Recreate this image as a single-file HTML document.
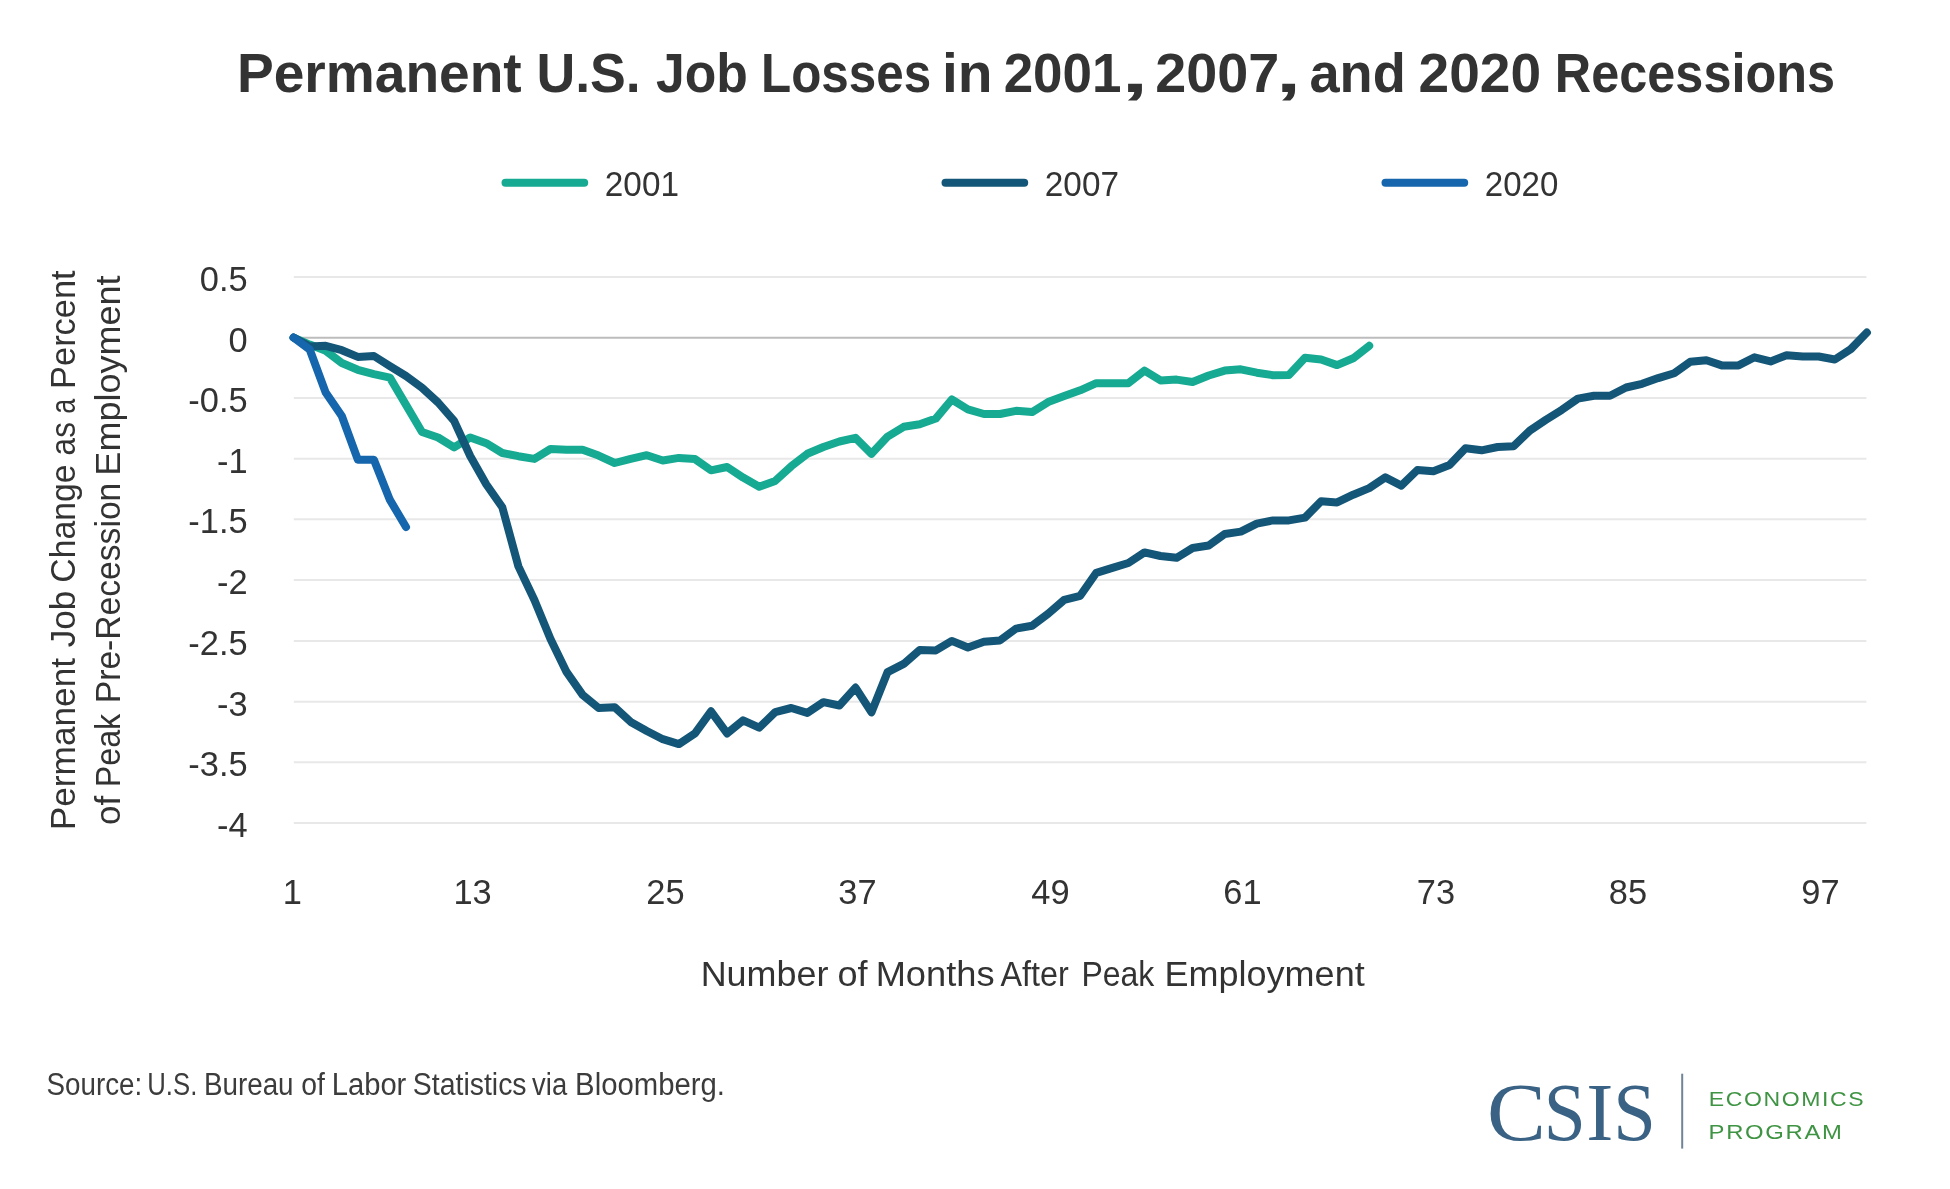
<!DOCTYPE html>
<html><head><meta charset="utf-8"><title>Permanent U.S. Job Losses</title>
<style>
html,body{margin:0;padding:0;background:#fff;}
svg{display:block;will-change:transform;}
text{font-family:"Liberation Sans",sans-serif;fill:#333;}
.t{font-weight:bold;font-size:55px;fill:#333;}
.a{font-size:34.4px;}
.l{font-size:35.2px;}
.s{font-size:30.6px;fill:#3c3c3c;}
.c{font-family:"Liberation Serif",serif;fill:#3a6284;font-size:83.5px;}
.e{font-size:20px;fill:#3f9443;letter-spacing:1.4px;}
</style></head><body>
<svg width="1950" height="1189" viewBox="0 0 1950 1189">
<rect width="1950" height="1189" fill="#fff"/>
<text class="t" x="236.96" y="91.5" textLength="284.71" lengthAdjust="spacingAndGlyphs">Permanent</text>
<text class="t" x="536.38" y="91.5" textLength="104.39" lengthAdjust="spacingAndGlyphs">U.S.</text>
<text class="t" x="656.00" y="91.5" textLength="91.89" lengthAdjust="spacingAndGlyphs">Job</text>
<text class="t" x="761.02" y="91.5" textLength="170.08" lengthAdjust="spacingAndGlyphs">Losses</text>
<text class="t" x="941.94" y="91.5" textLength="50.61" lengthAdjust="spacingAndGlyphs">in</text>
<text class="t" x="1003.65" y="91.5" textLength="117.77" lengthAdjust="spacingAndGlyphs">2001</text>
<text class="t" x="1121.28" y="91.5" textLength="27.21" lengthAdjust="spacingAndGlyphs">,</text>
<text class="t" x="1155.26" y="91.5" textLength="124.00" lengthAdjust="spacingAndGlyphs">2007</text>
<text class="t" x="1276.06" y="91.5" textLength="25.07" lengthAdjust="spacingAndGlyphs">,</text>
<text class="t" x="1309.45" y="91.5" textLength="96.31" lengthAdjust="spacingAndGlyphs">and</text>
<text class="t" x="1418.58" y="91.5" textLength="122.45" lengthAdjust="spacingAndGlyphs">2020</text>
<text class="t" x="1554.85" y="91.5" textLength="280.19" lengthAdjust="spacingAndGlyphs">Recessions</text>
<line x1="505.5" y1="182.7" x2="584.2" y2="182.7" stroke="#16aa92" stroke-width="8" stroke-linecap="round"/>
<text class="a" x="604.84" y="195.9" textLength="74.11" lengthAdjust="spacingAndGlyphs">2001</text>
<line x1="945.5" y1="182.7" x2="1024.2" y2="182.7" stroke="#145677" stroke-width="8" stroke-linecap="round"/>
<text class="a" x="1044.84" y="195.9" textLength="74.11" lengthAdjust="spacingAndGlyphs">2007</text>
<line x1="1385.5" y1="182.7" x2="1464.2" y2="182.7" stroke="#1566ac" stroke-width="8" stroke-linecap="round"/>
<text class="a" x="1484.85" y="195.9" textLength="73.57" lengthAdjust="spacingAndGlyphs">2020</text>
<line x1="293.8" y1="276.90" x2="1866.4" y2="276.90" stroke="#e8e8e8" stroke-width="2"/>
<line x1="293.8" y1="337.75" x2="1866.4" y2="337.75" stroke="#bcbcbc" stroke-width="2"/>
<line x1="293.8" y1="398.10" x2="1866.4" y2="398.10" stroke="#e8e8e8" stroke-width="2"/>
<line x1="293.8" y1="458.80" x2="1866.4" y2="458.80" stroke="#e8e8e8" stroke-width="2"/>
<line x1="293.8" y1="519.30" x2="1866.4" y2="519.30" stroke="#e8e8e8" stroke-width="2"/>
<line x1="293.8" y1="580.10" x2="1866.4" y2="580.10" stroke="#e8e8e8" stroke-width="2"/>
<line x1="293.8" y1="640.90" x2="1866.4" y2="640.90" stroke="#e8e8e8" stroke-width="2"/>
<line x1="293.8" y1="701.70" x2="1866.4" y2="701.70" stroke="#e8e8e8" stroke-width="2"/>
<line x1="293.8" y1="762.30" x2="1866.4" y2="762.30" stroke="#e8e8e8" stroke-width="2"/>
<line x1="293.8" y1="823.10" x2="1866.4" y2="823.10" stroke="#e8e8e8" stroke-width="2"/>
<text class="a" x="247.6" y="291.0" text-anchor="end">0.5</text>
<text class="a" x="247.6" y="351.6" text-anchor="end">0</text>
<text class="a" x="247.6" y="412.2" text-anchor="end">-0.5</text>
<text class="a" x="247.6" y="472.9" text-anchor="end">-1</text>
<text class="a" x="247.6" y="533.4" text-anchor="end">-1.5</text>
<text class="a" x="247.6" y="594.2" text-anchor="end">-2</text>
<text class="a" x="247.6" y="655.0" text-anchor="end">-2.5</text>
<text class="a" x="247.6" y="715.8" text-anchor="end">-3</text>
<text class="a" x="247.6" y="776.4" text-anchor="end">-3.5</text>
<text class="a" x="247.6" y="837.2" text-anchor="end">-4</text>
<text class="a" x="292.3" y="904" text-anchor="middle">1</text>
<text class="a" x="472.6" y="904" text-anchor="middle">13</text>
<text class="a" x="665.4" y="904" text-anchor="middle">25</text>
<text class="a" x="857.4" y="904" text-anchor="middle">37</text>
<text class="a" x="1050.4" y="904" text-anchor="middle">49</text>
<text class="a" x="1242.5" y="904" text-anchor="middle">61</text>
<text class="a" x="1436.0" y="904" text-anchor="middle">73</text>
<text class="a" x="1627.9" y="904" text-anchor="middle">85</text>
<text class="a" x="1820.5" y="904" text-anchor="middle">97</text>
<text class="l" x="700.70" y="985.7" textLength="127.68" lengthAdjust="spacingAndGlyphs">Number</text>
<text class="l" x="837.47" y="985.7" textLength="30.10" lengthAdjust="spacingAndGlyphs">of</text>
<text class="l" x="875.67" y="985.7" textLength="118.86" lengthAdjust="spacingAndGlyphs">Months</text>
<text class="l" x="1000.50" y="985.7" textLength="68.26" lengthAdjust="spacingAndGlyphs">After</text>
<text class="l" x="1081.40" y="985.7" textLength="72.90" lengthAdjust="spacingAndGlyphs">Peak</text>
<text class="l" x="1164.49" y="985.7" textLength="200.19" lengthAdjust="spacingAndGlyphs">Employment</text>
<g transform="translate(75.2,830.0) rotate(-90)">
<text class="l" x="-0.25" y="0" textLength="172.33" lengthAdjust="spacingAndGlyphs">Permanent</text>
<text class="l" x="182.65" y="0" textLength="56.57" lengthAdjust="spacingAndGlyphs">Job</text>
<text class="l" x="247.32" y="0" textLength="118.25" lengthAdjust="spacingAndGlyphs">Change</text>
<text class="l" x="374.62" y="0" textLength="33.27" lengthAdjust="spacingAndGlyphs">as</text>
<text class="l" x="416.16" y="0" textLength="14.97" lengthAdjust="spacingAndGlyphs">a</text>
<text class="l" x="441.11" y="0" textLength="118.47" lengthAdjust="spacingAndGlyphs">Percent</text>
</g>
<g transform="translate(120.0,830.0) rotate(-90)">
<text class="l" x="5.11" y="0" textLength="29.07" lengthAdjust="spacingAndGlyphs">of</text>
<text class="l" x="42.68" y="0" textLength="73.52" lengthAdjust="spacingAndGlyphs">Peak</text>
<text class="l" x="126.77" y="0" textLength="220.52" lengthAdjust="spacingAndGlyphs">Pre-Recession</text>
<text class="l" x="354.39" y="0" textLength="200.19" lengthAdjust="spacingAndGlyphs">Employment</text>
</g>
<path d="M293.6,337.6 L309.7,344.6 L325.7,350.8 L341.8,363.0 L357.8,369.8 L373.9,374.2 L389.9,377.6 L406.0,404.9 L422.0,432.0 L438.1,437.5 L454.1,447.4 L470.2,437.5 L486.2,443.2 L502.3,453.0 L518.4,456.2 L534.4,458.9 L550.5,449.0 L566.5,449.8 L582.6,449.8 L598.6,455.6 L614.7,463.0 L630.7,458.9 L646.8,455.2 L662.8,460.5 L678.9,457.9 L695.0,459.1 L711.0,470.3 L727.1,467.0 L743.1,477.6 L759.2,486.7 L775.2,480.9 L791.3,466.2 L807.3,453.8 L823.4,447.0 L839.4,441.5 L855.5,437.8 L871.5,453.8 L887.6,436.6 L903.7,426.8 L919.7,424.3 L935.8,418.6 L951.8,399.5 L967.9,409.3 L983.9,414.0 L1000.0,414.0 L1016.0,410.8 L1032.1,412.1 L1048.1,402.1 L1064.2,396.0 L1080.2,390.3 L1096.3,383.2 L1112.4,383.2 L1128.4,383.2 L1144.5,370.6 L1160.5,380.4 L1176.6,379.6 L1192.6,382.0 L1208.7,375.5 L1224.7,370.6 L1240.8,369.3 L1256.8,372.7 L1272.9,375.2 L1288.9,374.9 L1305.0,357.7 L1321.1,359.5 L1337.1,365.1 L1353.2,358.3 L1369.2,345.8" fill="none" stroke="#16aa92" stroke-width="8" stroke-linejoin="round" stroke-linecap="round"/>
<path d="M293.6,337.6 L309.7,346.5 L325.7,345.8 L341.8,350.2 L357.8,356.9 L373.9,356.0 L389.9,366.2 L406.0,376.0 L422.0,387.7 L438.1,402.5 L454.1,420.9 L470.2,456.0 L486.2,484.3 L502.3,507.3 L518.4,566.4 L534.4,600.0 L550.5,639.0 L566.5,671.9 L582.6,694.9 L598.6,708.0 L614.7,707.2 L630.7,721.9 L646.8,731.0 L662.8,739.2 L678.9,744.1 L695.0,733.4 L711.0,711.3 L727.1,733.4 L743.1,720.3 L759.2,727.7 L775.2,712.1 L791.3,708.0 L807.3,712.9 L823.4,702.2 L839.4,705.5 L855.5,687.6 L871.5,712.3 L887.6,672.1 L903.7,663.9 L919.7,649.9 L935.8,650.4 L951.8,640.9 L967.9,647.5 L983.9,641.7 L1000.0,640.4 L1016.0,628.6 L1032.1,625.7 L1048.1,613.8 L1064.2,599.9 L1080.2,595.8 L1096.3,572.8 L1112.4,567.9 L1128.4,563.0 L1144.5,552.4 L1160.5,556.0 L1176.6,557.8 L1192.6,548.0 L1208.7,545.5 L1224.7,534.0 L1240.8,531.6 L1256.8,523.7 L1272.9,520.4 L1288.9,520.4 L1305.0,517.6 L1321.1,501.2 L1337.1,502.4 L1353.2,494.7 L1369.2,488.1 L1385.3,477.4 L1401.3,485.6 L1417.4,470.0 L1433.4,471.2 L1449.5,465.0 L1465.5,448.3 L1481.6,450.3 L1497.7,447.0 L1513.7,446.2 L1529.8,430.6 L1545.8,419.9 L1561.9,409.8 L1577.9,398.6 L1594.0,395.7 L1610.0,395.7 L1626.1,387.5 L1642.1,383.8 L1658.2,378.1 L1674.2,373.2 L1690.3,361.7 L1706.4,360.2 L1722.4,365.6 L1738.5,365.4 L1754.5,357.3 L1770.6,361.4 L1786.6,355.2 L1802.7,356.5 L1818.7,356.5 L1834.8,359.5 L1850.8,349.1 L1866.9,332.5" fill="none" stroke="#145677" stroke-width="8" stroke-linejoin="round" stroke-linecap="round"/>
<path d="M293.6,337.6 L309.7,349.5 L325.7,392.6 L341.8,416.0 L357.8,459.7 L373.9,459.7 L389.9,499.9 L406.0,527.0" fill="none" stroke="#1566ac" stroke-width="8" stroke-linejoin="round" stroke-linecap="round"/>
<text class="s" x="46.53" y="1094.7" textLength="95.68" lengthAdjust="spacingAndGlyphs">Source:</text>
<text class="s" x="147.29" y="1094.7" textLength="50.03" lengthAdjust="spacingAndGlyphs">U.S.</text>
<text class="s" x="203.93" y="1094.7" textLength="89.63" lengthAdjust="spacingAndGlyphs">Bureau</text>
<text class="s" x="301.22" y="1094.7" textLength="23.59" lengthAdjust="spacingAndGlyphs">of</text>
<text class="s" x="331.72" y="1094.7" textLength="74.62" lengthAdjust="spacingAndGlyphs">Labor</text>
<text class="s" x="412.81" y="1094.7" textLength="113.78" lengthAdjust="spacingAndGlyphs">Statistics</text>
<text class="s" x="532.10" y="1094.7" textLength="35.03" lengthAdjust="spacingAndGlyphs">via</text>
<text class="s" x="575.11" y="1094.7" textLength="149.84" lengthAdjust="spacingAndGlyphs">Bloomberg.</text>
<text class="c" x="1486.94" y="1139.7" textLength="58.86" lengthAdjust="spacingAndGlyphs">C</text>
<text class="c" x="1543.79" y="1139.7" textLength="41.95" lengthAdjust="spacingAndGlyphs">S</text>
<text class="c" x="1586.36" y="1139.7" textLength="27.11" lengthAdjust="spacingAndGlyphs">I</text>
<text class="c" x="1613.21" y="1139.7" textLength="42.59" lengthAdjust="spacingAndGlyphs">S</text>
<line x1="1682.2" y1="1073.7" x2="1682.2" y2="1148.6" stroke="#6f8497" stroke-width="2"/>
<text class="e" x="1708.70" y="1105.7" textLength="156.68" lengthAdjust="spacingAndGlyphs">ECONOMICS</text>
<text class="e" x="1708.64" y="1138.5" textLength="134.94" lengthAdjust="spacingAndGlyphs">PROGRAM</text>
</svg></body></html>
